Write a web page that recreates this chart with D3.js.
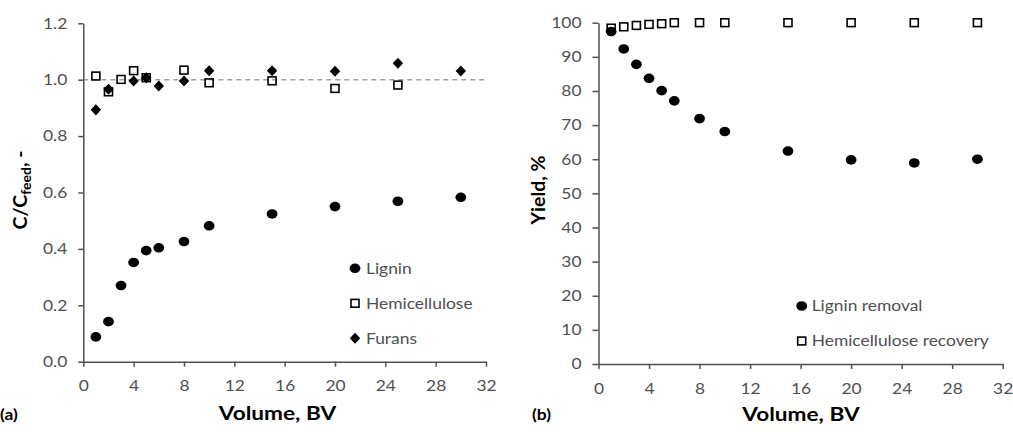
<!DOCTYPE html>
<html><head><meta charset="utf-8">
<script src="https://cdn.jsdelivr.net/npm/d3@7"></script>
<style>body{margin:0;background:#fff} svg{display:block}</style>
</head><body><svg id="c" width="1013" height="432"></svg>
<script>
// ---- data ----
const volumeLigninA = [1,2,3,4,5,6,8,10,15,20,25,30];
const ligninA = [0.088,0.142,0.270,0.352,0.394,0.404,0.426,0.482,0.524,0.550,0.569,0.583];
const volumeHemiA = [1,2,3,4,5,8,10,15,20,25];
const hemiA = [1.013,0.957,1.001,1.032,1.007,1.034,0.989,0.996,0.969,0.981];
const volumeFuransA = [1,2,4,5,6,8,10,15,20,25,30];
const furansA = [0.893,0.966,0.995,1.007,0.978,0.995,1.032,1.032,1.030,1.058,1.031];
const volumeB = [1,2,3,4,5,6,8,10,15,20,25,30];
const ligninRemovalB = [97.4,92.3,87.8,83.7,80.1,77.1,71.9,68.1,62.4,59.8,58.9,60.0];
const hemiRecoveryB = [98.4,98.8,99.2,99.5,99.7,100,100,100,100,100,100,100];
const xTicks = [0,4,8,12,16,20,24,28,32];
const yTicksA = [0,0.2,0.4,0.6,0.8,1.0,1.2];
const yTicksB = [0,10,20,30,40,50,60,70,80,90,100];
const legendA = ["Lignin","Hemicellulose","Furans"];
const legendB = ["Lignin removal","Hemicellulose recovery"];

const FONT = "Lato, 'Open Sans', sans-serif";
const SX = 1.16;
const AX = "#505050", LAB = "#505050";
const svg = d3.select("#c");

function stretch(sel, sx){
  sel.each(function(){
    const t = d3.select(this);
    const x = +t.attr("x") || 0;
    t.attr("x", x/sx).attr("transform", `scale(${sx},1)`);
  });
}

function styleAxis(g){
  g.attr("font-family", FONT).attr("font-size", 15);
  g.select(".domain").attr("stroke", AX).attr("stroke-width", 1.5);
  g.selectAll(".tick line").attr("stroke", AX).attr("stroke-width", 1.5);
  g.selectAll(".tick text").attr("fill", LAB);
  stretch(g.selectAll(".tick text"), SX);
}

function diamond(){ return d3.symbol().type(d3.symbolSquare).size(52)(); }

function marker(g, type, cx, cy){
  if(type === "circle"){
    g.append("ellipse").attr("cx", cx).attr("cy", cy).attr("rx", 5.4).attr("ry", 4.8).attr("fill", "#000");
  } else if(type === "square"){
    g.append("rect").attr("x", cx-4).attr("y", cy-3.9).attr("width", 8).attr("height", 7.8)
      .attr("fill", "none").attr("stroke", "#000").attr("stroke-width", 1.6);
  } else {
    g.append("path").attr("d", diamond()).attr("fill", "#000")
      .attr("transform", `translate(${cx},${cy}) scale(1.02,1.08) rotate(45)`);
  }
}

function bold(text, x, y, size, anchor){
  const t = svg.append("text").attr("x", x).attr("y", y).attr("font-family", FONT)
    .attr("font-weight", 700).attr("font-size", size).attr("fill", "#000")
    .attr("text-anchor", anchor || "middle").text(text);
  stretch(t, SX);
  return t;
}

// ---- panel (a) ----
const xA = d3.scaleLinear().domain([0,32]).range([83.3,486]);
const yA = d3.scaleLinear().domain([0,1.2]).range([361.7,23.3]);

svg.append("line").attr("x1", xA(0)).attr("x2", xA(32)).attr("y1", yA(1)).attr("y2", yA(1))
  .attr("stroke", "#a0a0a0").attr("stroke-width", 1.5).attr("stroke-dasharray", "5,4");

svg.append("g").attr("transform", `translate(0,${yA(0)})`)
  .call(d3.axisBottom(xA).tickValues(xTicks).tickSizeInner(5).tickSizeOuter(0).tickPadding(14))
  .call(styleAxis);
svg.append("g").attr("transform", `translate(${xA(0)},0)`)
  .call(d3.axisLeft(yA).tickValues(yTicksA).tickFormat(d3.format(".1f")).tickSizeInner(5).tickSizeOuter(0).tickPadding(11))
  .call(styleAxis);

const pA = svg.append("g");
volumeLigninA.forEach((v,i)=>marker(pA, "circle", xA(v), yA(ligninA[i])));
volumeHemiA.forEach((v,i)=>marker(pA, "square", xA(v), yA(hemiA[i])));
volumeFuransA.forEach((v,i)=>marker(pA, "diamond", xA(v), yA(furansA[i])));

const legA = svg.append("g");
["circle","square","diamond"].forEach((m,i)=>{
  const cy = 268.3 + i*35;
  marker(legA, m, 355, cy);
  const t = legA.append("text").attr("x", 366).attr("y", cy+5.5).attr("font-family", FONT)
    .attr("font-size", 15).attr("fill", LAB).text(legendA[i]);
  stretch(t, SX);
});

bold("Volume, BV", 277.5, 420, 19.5);
bold("(a)", 0, 420, 15, "start");
const ytA = svg.append("text").attr("transform", "translate(27,190) rotate(-90)")
  .attr("font-family", FONT).attr("font-weight", 700).attr("font-size", 19.5).attr("fill", "#000")
  .attr("text-anchor", "middle");
ytA.append("tspan").text("C/C");
ytA.append("tspan").attr("font-size", 14).attr("dy", 4).text("feed");
ytA.append("tspan").attr("dy", -4).text(", -");

// ---- panel (b) ----
const xB = d3.scaleLinear().domain([0,32]).range([598.5,1002.7]);
const yB = d3.scaleLinear().domain([0,100]).range([364,22.7]);

svg.append("g").attr("transform", `translate(0,${yB(0)})`)
  .call(d3.axisBottom(xB).tickValues(xTicks).tickSizeInner(5).tickSizeOuter(0).tickPadding(14))
  .call(styleAxis);
svg.append("g").attr("transform", `translate(${xB(0)},0)`)
  .call(d3.axisLeft(yB).tickValues(yTicksB).tickSizeInner(6).tickSizeOuter(0).tickPadding(11))
  .call(styleAxis);

const pB = svg.append("g");
volumeB.forEach((v,i)=>marker(pB, "square", xB(v), yB(hemiRecoveryB[i])));
volumeB.forEach((v,i)=>marker(pB, "circle", xB(v), yB(ligninRemovalB[i])));

const legB = svg.append("g");
["circle","square"].forEach((m,i)=>{
  const cy = 306 + i*35;
  marker(legB, m, 801.7, cy);
  const t = legB.append("text").attr("x", 811.7).attr("y", cy+5.5).attr("font-family", FONT)
    .attr("font-size", 15).attr("fill", LAB).text(legendB[i]);
  stretch(t, SX);
});

bold("Volume, BV", 801, 421, 19.5);
bold("(b)", 532, 420, 15, "start");
svg.append("text").attr("transform", "translate(545,190) rotate(-90)")
  .attr("font-family", FONT).attr("font-weight", 700).attr("font-size", 19.5).attr("fill", "#000")
  .attr("text-anchor", "middle").text("Yield, %");
</script></body></html>
